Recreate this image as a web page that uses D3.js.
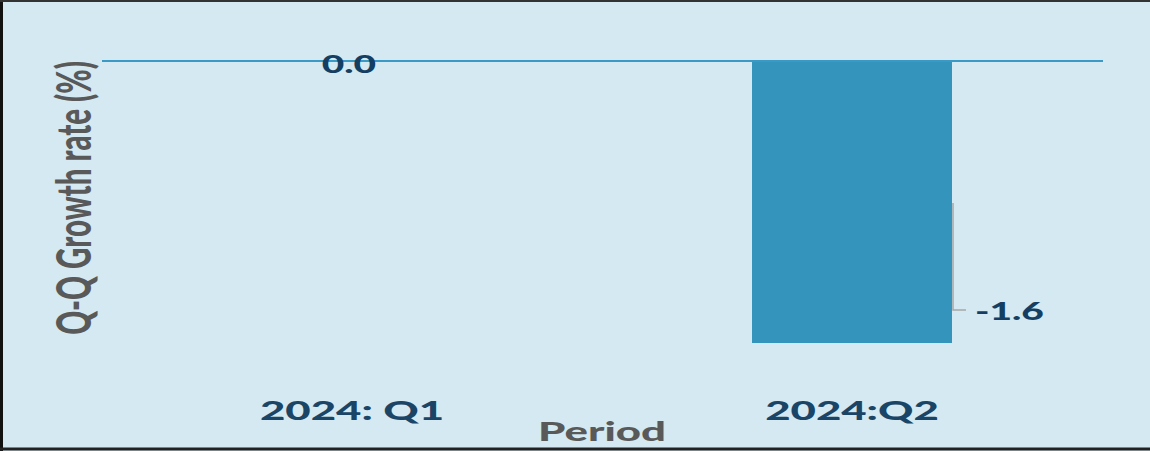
<!DOCTYPE html>
<html><head><meta charset="utf-8">
<script src="https://cdn.jsdelivr.net/npm/d3@7"></script>
<style>
html,body{margin:0;padding:0;background:#d4e9f1;}
svg{display:block;}
</style></head>
<body>
<svg id="chart" width="1150" height="451"></svg>
<script>
const categories = ["2024: Q1", "2024:Q2"];
const values = [0.0, -1.6];
const valueLabels = ["0.0", "-1.6"];
const yTitle = "Q-Q Growth rate (%)";
const xTitle = "Period";

const W = 1150, H = 451;
const SX = 1.62; // horizontal stretch of the original typography
const svg = d3.select("#chart");
svg.append("rect").attr("x",0).attr("y",0).attr("width",W).attr("height",H).attr("fill","#d4e9f1");
// frame
svg.append("line").attr("x1",1.5).attr("x2",1.5).attr("y1",0).attr("y2",H).attr("stroke","#111").attr("stroke-width",3);
svg.append("line").attr("x1",0).attr("x2",W).attr("y1",449).attr("y2",449).attr("stroke","#222").attr("stroke-width",3);
svg.append("line").attr("x1",0).attr("x2",W).attr("y1",1).attr("y2",1).attr("stroke","#333").attr("stroke-width",2);

const x = d3.scaleBand().domain(categories).range([102, 1102]).paddingInner(0.6).paddingOuter(0.3);
const y = d3.scaleLinear().domain([-1.6, 0]).range([343, 61]);

const font = "'Lato', 'Open Sans', sans-serif";

function stretchedText(px, py, txt, size, fill, anchor) {
  return svg.append("text")
    .attr("transform", `translate(${px},${py}) scale(${SX},1)`)
    .attr("text-anchor", anchor)
    .attr("font-family", font).attr("font-weight", 900).attr("font-size", size)
    .attr("fill", fill).text(txt);
}

// bars
svg.selectAll("rect.bar").data(values).enter().append("rect")
  .attr("class","bar")
  .attr("x",(d,i)=>x(categories[i]))
  .attr("width",x.bandwidth())
  .attr("y",d=>y(Math.max(0,d)))
  .attr("height",d=>Math.abs(y(d)-y(0)))
  .attr("fill","#3594bb");

// baseline
svg.append("line").attr("x1",102).attr("x2",1103).attr("y1",y(0)).attr("y2",y(0))
  .attr("stroke","#3a9ac6").attr("stroke-width",2);

// value labels
values.forEach((v,i)=>{
  const cx = x(categories[i]) + x.bandwidth()/2;
  if (v === 0) {
    stretchedText(cx-3, y(0)+12, valueLabels[i], 24, "#143f63", "middle");
  } else {
    const xr = x(categories[i]) + x.bandwidth() + 1;
    const yEnd = y(v) - 33;
    svg.append("path").attr("d",`M${xr},${y(v)-140} V${yEnd} H${xr+13}`)
      .attr("fill","none").attr("stroke","#a6a6a6").attr("stroke-width",1.5);
    stretchedText(xr+22, yEnd+10, valueLabels[i], 24, "#143f63", "start");
  }
});

// x tick labels via axis, then stretched
const xAxis = svg.append("g").attr("transform","translate(0,0)")
  .call(d3.axisBottom(x).tickSize(0).tickPadding(0));
xAxis.select(".domain").remove();
xAxis.selectAll(".tick").attr("transform", d => `translate(${x(d)+x.bandwidth()/2},420) scale(${SX},1)`);
xAxis.selectAll("text").attr("font-family",font).attr("font-weight",900)
  .attr("font-size",27).attr("fill","#1a4566").attr("y",0).attr("dy","0");

// axis titles
stretchedText(602, 441, xTitle, 27, "#595959", "middle");
svg.append("text").attr("transform",`translate(91,198) scale(${SX},1) rotate(-90)`).attr("text-anchor","middle")
  .attr("font-family",font).attr("font-weight",900).attr("font-size",29.5)
  .attr("fill","#595959").text(yTitle);
</script>
</body></html>
